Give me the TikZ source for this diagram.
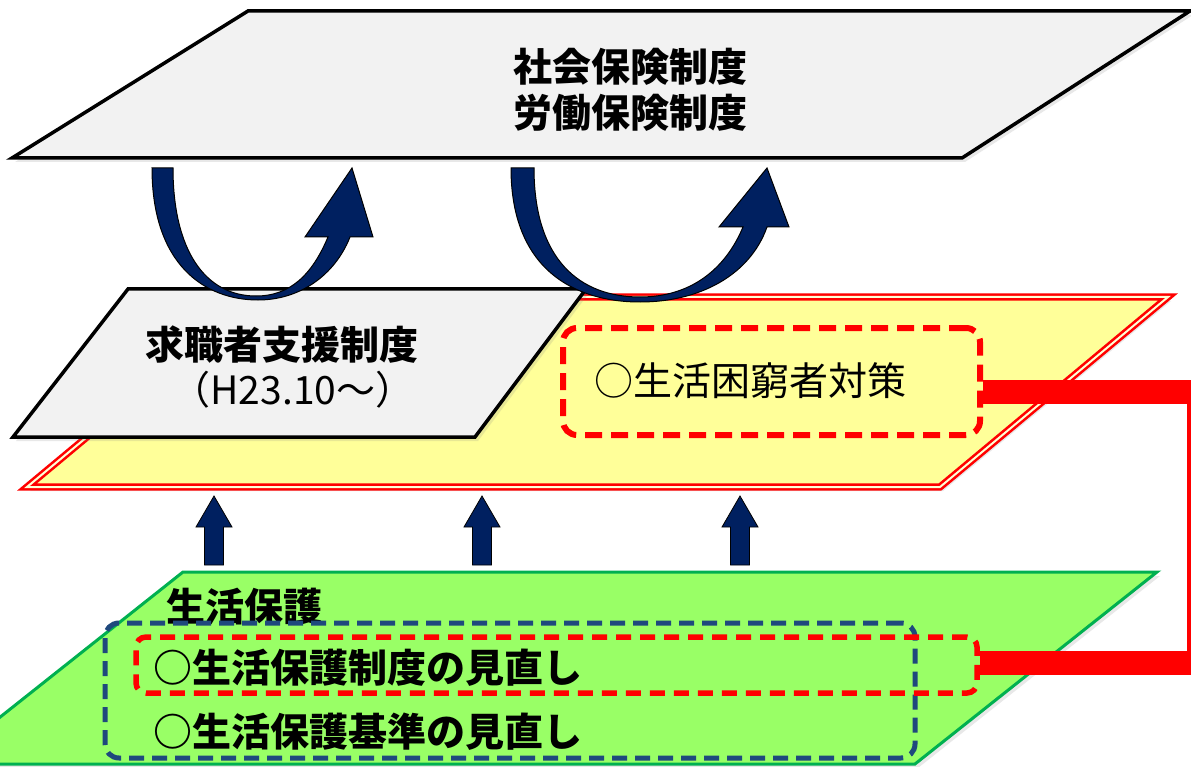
\documentclass[tikz,border=0pt]{standalone}
\usepackage{fontspec}
\newfontfamily\cjk{Noto Sans CJK JP}
\usetikzlibrary{shadows}
\definecolor{greyfill}{HTML}{F2F2F2}
\definecolor{yelfill}{HTML}{FFFF99}
\definecolor{grnfill}{HTML}{99FF66}
\definecolor{grnline}{HTML}{00B050}
\definecolor{navyblue}{HTML}{002060}
\definecolor{dashblue}{HTML}{1F497D}
\definecolor{myred}{HTML}{FF0000}
\tikzset{
  softshadow/.style={drop shadow={shadow xshift=3pt, shadow yshift=-4pt, opacity=0.18}},
  greylayer/.style={softshadow, draw=black, fill=greyfill, line width=3.5pt, line join=miter},
  yellayer/.style={softshadow, fill=yelfill, draw=myred, line width=2.6pt, double=yelfill!40!white, double distance=2pt, line join=miter},
  grnlayer/.style={softshadow, fill=grnfill, draw=grnline, line width=3pt, line join=miter},
  curvedarrow/.style={fill=navyblue, draw=black, line width=1pt, line join=miter},
  uparrow/.style={fill=navyblue, draw=black, line width=0.8pt, line join=miter},
  reddash/.style={draw=myred, line width=6pt, dash pattern=on 17pt off 9pt, rounded corners=14pt, inner sep=0pt},
  bluedash/.style={draw=dashblue, line width=5pt, dash pattern=on 15pt off 8pt, rounded corners=14pt, inner sep=0pt},
  txt/.style={font=\cjk\fontsize{39}{46}\selectfont, inner sep=0pt, text=black},
  conn/.style={draw=myred, line width=24pt, line join=miter}
}
\begin{document}
\begin{tikzpicture}[x=1pt,y=-1pt]
\path[use as bounding box] (0,0) rectangle (1191,767);
\clip (0,0) rectangle (1191,767);

% top layer
\draw[greylayer] (248,11) -- (1190,11) -- (962,158) -- (12,158) -- cycle;
\node[txt, align=center] (ttop) at (630,90) {\bfseries 社会保険制度\\\bfseries 労働保険制度};

% yellow layer
\draw[yellayer] (255,297) -- (1168,297) -- (940,487) -- (27,487) -- cycle;

% middle grey layer
\draw[greylayer] (128,289) -- (586,289) -- (475,437) -- (13,437) -- cycle;
\node[txt] (tjob1) at (282,345) {\bfseries 求職者支援制度};
\node[txt] (tjob2) at (293,390) {（H23.10～）};

% curved arrows
\draw[curvedarrow] (152,168) .. controls (152,265) and (205,300) .. (258,300)
  .. controls (300,300) and (335,275) .. (350,237) -- (373,237) -- (352,168) -- (305,237) -- (328,237)
  .. controls (312,275) and (290,296) .. (256,296)
  .. controls (205,296) and (173,250) .. (173,168) -- cycle;
\draw[curvedarrow] (511,168) .. controls (511,270) and (575,302) .. (640,302)
  .. controls (700,302) and (750,275) .. (767,227) -- (789,227) -- (767,168) -- (719,227) -- (743,227)
  .. controls (725,270) and (690,297) .. (640,297)
  .. controls (580,297) and (534,260) .. (534,168) -- cycle;

% poverty measures box
\node[reddash, minimum width=417pt, minimum height=107pt] (box1) at (771.5,381.5) {};
\node[txt, anchor=west] (tpov) at (594,381) {○生活困窮者対策};

% green layer
\draw[grnlayer] (183,572) -- (1157,572) -- (915,764) -- (-59,764) -- cycle;
\node[txt, anchor=west] (tlive) at (166,607) {\bfseries 生活保護};
\node[bluedash, minimum width=810pt, minimum height=135pt] (box2) at (510,690.5) {};
\node[reddash, rounded corners=10pt, line width=5.5pt, dash pattern=on 15pt off 9pt, minimum width=841pt, minimum height=56pt] (box3) at (556.5,665) {};
\node[txt, anchor=west] (tsys) at (153,668) {\bfseries ○生活保護制度の見直し};
\node[txt, anchor=west] (tstd) at (153,732) {\bfseries ○生活保護基準の見直し};

% straight up arrows
\foreach \cx in {214,482,740}{
  \draw[uparrow] (\cx,496) -- (\cx+18,527) -- (\cx+9.5,527) -- (\cx+9.5,565) -- (\cx-9.5,565) -- (\cx-9.5,527) -- (\cx-18,527) -- cycle;
}

% connector
\coordinate (c1) at (1199,392);
\coordinate (c2) at (1199,663);
\draw[conn] (box1.east |- c1) -- (c1) -- (c2) -- (box3.east |- c2);
\end{tikzpicture}
\end{document}
